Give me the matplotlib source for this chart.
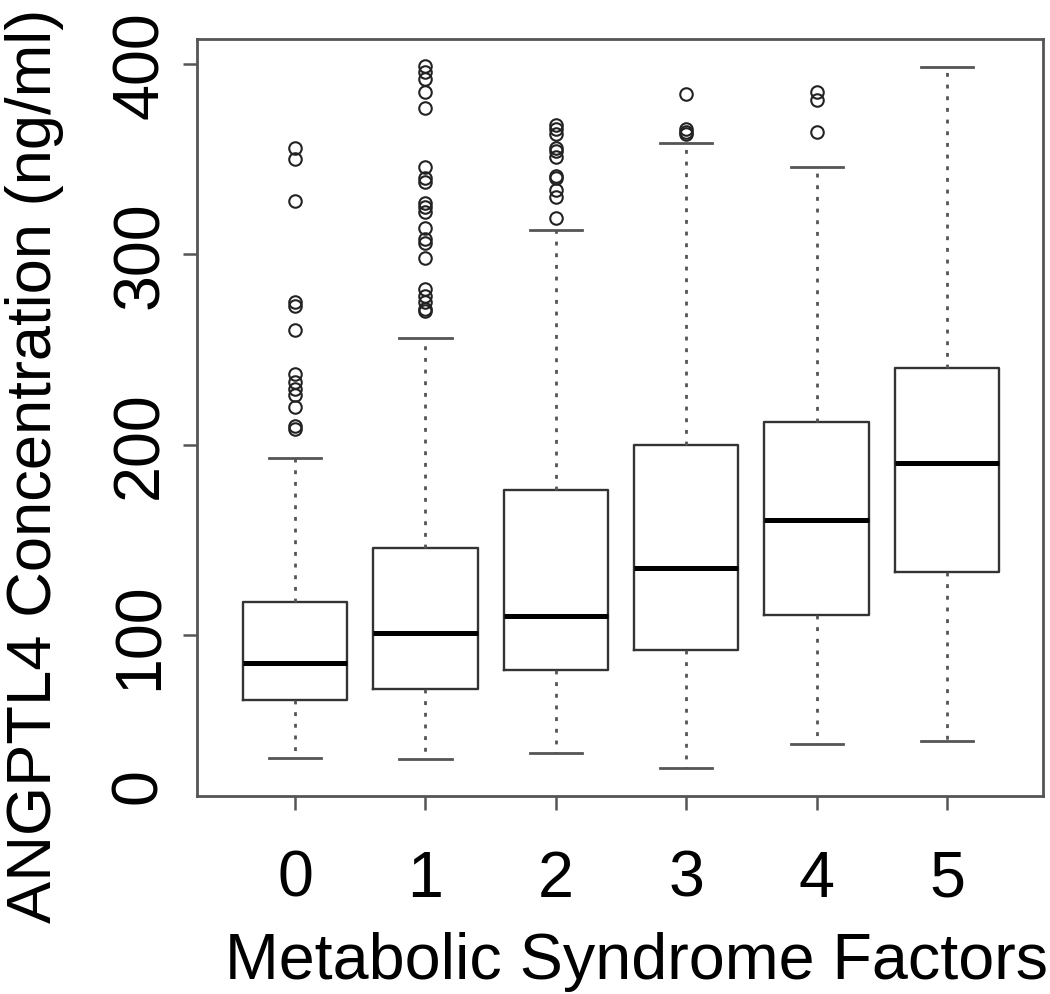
import matplotlib
matplotlib.use('Agg')
import matplotlib.pyplot as plt

# values (ng/ml)
factors = ['0', '1', '2', '3', '4', '5']
lower_whisker = [35.2, 34.8, 37.8, 30.1, 42.7, 44.4]
q1 = [66.0, 71.6, 81.6, 92.1, 110.5, 132.9]
median = [85.3, 101.0, 109.8, 135.2, 160.4, 190.4]
q3 = [117.5, 145.7, 176.3, 199.8, 211.7, 240.3]
upper_whisker = [193.0, 255.9, 312.8, 358.5, 345.7, 398.3]
outliers = [
    [356, 350, 328, 275, 273, 260, 237, 233, 229, 226, 220, 210, 208],
    [399, 396, 392, 385, 377, 346, 340, 338, 327, 325, 322, 314, 308, 306,
     298, 282, 278, 275, 271, 270],
    [368, 366, 363, 356, 354, 351, 341, 340, 334, 330, 319],
    [384, 366, 364, 363],
    [385, 381, 364],
    [],
]
y_ticks = [100, 200, 300, 400]

plt.rcParams['font.family'] = ['Liberation Sans', 'DejaVu Sans']
FS = 46.5

stats = []
for i in range(len(factors)):
    stats.append(dict(whislo=lower_whisker[i], q1=q1[i], med=median[i],
                      q3=q3[i], whishi=upper_whisker[i], fliers=outliers[i],
                      label=factors[i]))

fig = plt.figure(figsize=(10.5, 9.95), dpi=100)
ax = fig.add_axes([197 / 1050, (995 - 797) / 995, 846 / 1050, 757 / 995])

ax.bxp(stats, positions=range(1, len(factors) + 1), widths=0.8,
       boxprops=dict(color='#333333', linewidth=1.7),
       medianprops=dict(color='black', linewidth=3.6, solid_capstyle='butt'),
       whiskerprops=dict(color='#555555', linewidth=2.0, linestyle=(0, (1.4, 2.8))),
       capprops=dict(color='#555555', linewidth=2.0),
       flierprops=dict(marker='o', markerfacecolor='none',
                       markeredgecolor='#222222', markersize=9,
                       markeredgewidth=1.5))

ax.set_xlim(0.248, 6.736)
ax.set_ylim(15.4, 413.1)

ax.set_yticks(y_ticks, labels=[str(v) for v in y_ticks])
# the reference shows an untick'd "0" label just above the bottom of the frame
ax.set_yticks([21.2], labels=['0'], minor=True)
ax.tick_params(axis='y', which='minor', length=0, labelsize=FS,
               labelrotation=90, pad=20)
ax.tick_params(axis='y', which='major', length=10, width=1.8, color='#555555',
               labelsize=FS, labelrotation=90, pad=9)
ax.tick_params(axis='x', length=10, width=1.8, color='#555555',
               labelsize=FS, pad=28)
for lab in ax.get_yticklabels(which='both'):
    lab.set_va('center')

for sp in ax.spines.values():
    sp.set_color('#555555')
    sp.set_linewidth(2)

ax.set_xlabel('Metabolic Syndrome Factors', fontsize=FS)
ax.xaxis.set_label_coords(0.52, -0.178)
ax.set_ylabel('ANGPTL4 Concentration (ng/ml)', fontsize=45.5)
ax.yaxis.set_label_coords(-0.157, 0.437)

fig.savefig('out.png', dpi=100)
